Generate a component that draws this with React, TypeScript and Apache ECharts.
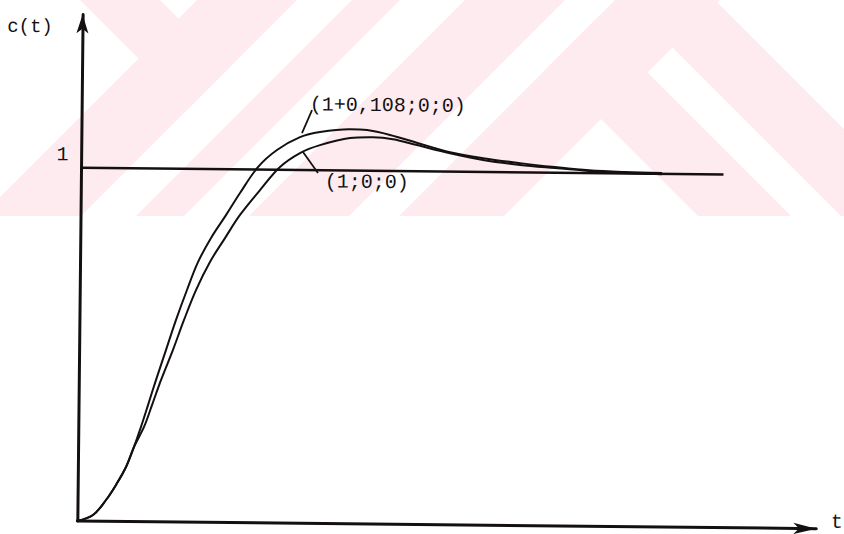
import { useEffect, useRef } from "react";
import * as echarts from "echarts";

// Time samples and step responses c(t) of the two systems
const tUpper = [0, 0.211, 0.385, 0.518, 0.651, 0.756, 0.848, 0.94, 1.044, 1.175, 1.307, 1.451, 1.596, 1.769, 1.968, 2.155, 2.394, 2.649, 2.959, 3.229, 3.634, 3.864, 4.176, 4.549, 4.991, 5.438, 5.939, 6.413, 6.874, 7.361, 7.862];
const cUpper = [0, 0.017, 0.06, 0.103, 0.154, 0.211, 0.268, 0.33, 0.401, 0.486, 0.572, 0.657, 0.736, 0.805, 0.87, 0.933, 1.007, 1.056, 1.093, 1.108, 1.117, 1.115, 1.102, 1.08, 1.055, 1.039, 1.026, 1.016, 1.008, 1.004, 1.002];

const tLower = [0, 0.211, 0.385, 0.518, 0.651, 0.756, 0.889, 0.994, 1.112, 1.27, 1.415, 1.573, 1.758, 1.958, 2.158, 2.425, 2.692, 2.961, 3.23, 3.635, 3.946, 4.217, 4.543, 4.991, 5.438, 5.94, 6.413, 6.874, 7.361, 7.862];
const cLower = [0, 0.017, 0.06, 0.103, 0.154, 0.211, 0.268, 0.33, 0.401, 0.487, 0.572, 0.657, 0.737, 0.805, 0.871, 0.942, 1.008, 1.048, 1.071, 1.092, 1.095, 1.09, 1.074, 1.052, 1.034, 1.021, 1.013, 1.006, 1.001, 0.999];

// Steady-state reference level and its extent along t
const steadyLevel = 1;
const steadyEnd = 8.694;

// Axis ranges and the names of the curves
const tMax = 10;
const cMax = 1.434;
const upperName = "(1+0,108;0;0)";
const lowerName = "(1;0;0)";
const yTickText = "1";

const zip = (xs: number[], ys: number[]) => xs.map((x, i) => [x, ys[i]]);

type Pt = [number, number];

function clipHalf(poly: Pt[], inside: (p: Pt) => boolean, cross: (a: Pt, b: Pt) => Pt): Pt[] {
  const out: Pt[] = [];
  for (let i = 0; i < poly.length; i++) {
    const cur = poly[i];
    const prev = poly[(i + poly.length - 1) % poly.length];
    const ci = inside(cur);
    const pi = inside(prev);
    if (ci) {
      if (!pi) out.push(cross(prev, cur));
      out.push(cur);
    } else if (pi) {
      out.push(cross(prev, cur));
    }
  }
  return out;
}

const atX = (a: Pt, b: Pt, x: number): Pt => {
  const s = (x - a[0]) / (b[0] - a[0]);
  return [x, a[1] + s * (b[1] - a[1])];
};
const atY = (a: Pt, b: Pt, y: number): Pt => {
  const s = (y - a[1]) / (b[1] - a[1]);
  return [a[0] + s * (b[0] - a[0]), y];
};

function clipRect(poly: Pt[], w: number, h: number): Pt[] {
  let p = poly;
  p = clipHalf(p, (q) => q[0] >= 0, (a, b) => atX(a, b, 0));
  p = clipHalf(p, (q) => q[0] <= w, (a, b) => atX(a, b, w));
  p = clipHalf(p, (q) => q[1] >= 0, (a, b) => atY(a, b, 0));
  p = clipHalf(p, (q) => q[1] <= h, (a, b) => atY(a, b, h));
  return p;
}

// Diagonal band in (u = x + y, v = x - y) coordinates
function band(u0: number, u1: number, v0: number, v1: number): Pt[] {
  const c = (u: number, v: number): Pt => [(u + v) / 2, (u - v) / 2];
  return [c(u0, v0), c(u1, v0), c(u1, v1), c(u0, v1)];
}

function watermarkGraphics() {
  const W = 844;
  const H = 216;
  const big = 4000;
  const bands: Pt[][] = [
    band(197, 297, -big, big),
    band(-big, 297, 80, 160),
    band(352, 400, -big, big),
    band(465, 565, -big, big),
    band(615, 720, -big, big),
    band(615, big, 482, 575),
    band(615, big, 625, 715),
  ];
  return bands
    .map((b) => clipRect(b, W, H))
    .filter((p) => p.length >= 3)
    .map((points) => ({
      type: "polygon",
      shape: { points },
      style: { fill: "#fdebef" },
      silent: true,
    }));
}

export default function App() {
  const bgRef = useRef<HTMLDivElement>(null);
  const chartRef = useRef<HTMLDivElement>(null);

  useEffect(() => {
    const bg = echarts.init(bgRef.current!, null, { renderer: "svg" });
    bg.setOption({ animation: false, graphic: watermarkGraphics() });

    const chart = echarts.init(chartRef.current!, null, { renderer: "svg" });
    const ink = "#141012";
    const font = "'Liberation Mono', 'DejaVu Sans Mono', monospace";
    chart.setOption({
      animation: false,
      grid: { left: 80, right: 25, top: 18, bottom: 9.5 },
      xAxis: {
        type: "value",
        min: 0,
        max: tMax,
        axisLine: {
          show: true,
          symbol: ["none", "arrow"],
          symbolSize: [8.5, 23],
          lineStyle: { color: ink, width: 3 },
        },
        axisTick: { show: false },
        axisLabel: { show: false },
        splitLine: { show: false },
      },
      yAxis: {
        type: "value",
        min: 0,
        max: cMax,
        axisLine: {
          show: true,
          symbol: ["none", "arrow"],
          symbolSize: [9, 19],
          lineStyle: { color: ink, width: 3 },
        },
        axisTick: { show: false },
        axisLabel: { show: false },
        splitLine: { show: false },
      },
      series: [
        {
          type: "line",
          data: [
            [0, steadyLevel],
            [steadyEnd, steadyLevel],
          ],
          symbol: "none",
          lineStyle: { color: ink, width: 2.6 },
          z: 2,
        },
        {
          name: upperName,
          type: "line",
          data: zip(tUpper, cUpper),
          symbol: "none",
          smooth: 0.35,
          lineStyle: { color: ink, width: 2 },
          z: 3,
        },
        {
          name: lowerName,
          type: "line",
          data: zip(tLower, cLower),
          symbol: "none",
          smooth: 0.35,
          lineStyle: { color: ink, width: 2 },
          z: 3,
        },
      ],
      graphic: [
        {
          type: "text",
          x: 27.5,
          y: 31,
          style: { text: "c(t)", fill: ink, font: `19px ${font}`, align: "center", verticalAlign: "middle" },
        },
        {
          type: "text",
          x: 61.5,
          y: 158.5,
          style: { text: yTickText, fill: ink, font: `20px ${font}`, align: "center", verticalAlign: "middle" },
        },
        {
          type: "text",
          x: 839.5,
          y: 518,
          style: { text: "t", fill: ink, font: `20px ${font}`, align: "center", verticalAlign: "middle" },
        },
        {
          type: "text",
          x: 308,
          y: 106,
          style: { text: upperName, fill: ink, font: `20px ${font}`, align: "left", verticalAlign: "middle" },
        },
        {
          type: "text",
          x: 324,
          y: 183,
          style: { text: lowerName, fill: ink, font: `20px ${font}`, align: "left", verticalAlign: "middle" },
        },
        {
          type: "line",
          shape: { x1: 310.4, y1: 111.2, x2: 300.6, y2: 134.3 },
          style: { stroke: ink, lineWidth: 1.8 },
        },
        {
          type: "line",
          shape: { x1: 301.8, y1: 153.2, x2: 317, y2: 174.1 },
          style: { stroke: ink, lineWidth: 1.8 },
        },
      ],
    });

    return () => {
      bg.dispose();
      chart.dispose();
    };
  }, []);

  return (
    <div
      style={{
        position: "fixed",
        left: 0,
        top: 0,
        width: 844,
        height: 534,
        background: "#ffffff",
        overflow: "hidden",
      }}
    >
      <div ref={bgRef} style={{ position: "absolute", left: 0, top: 0, width: 844, height: 534 }} />
      <div
        ref={chartRef}
        style={{
          position: "absolute",
          left: 0,
          top: 0,
          width: 844,
          height: 534,
          transform: "rotate(0.6deg)",
        }}
      />
    </div>
  );
}
